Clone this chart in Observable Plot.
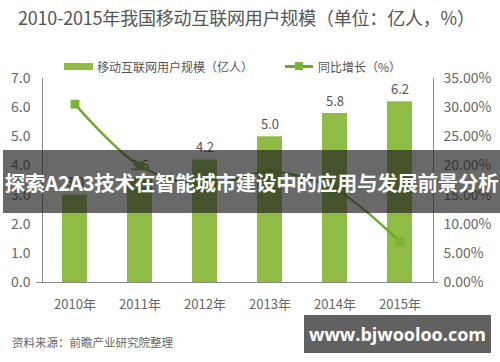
<!DOCTYPE html>
<html>
<head>
<meta charset="utf-8">
<script src="https://cdn.jsdelivr.net/npm/d3@7"></script>
<script src="https://cdn.jsdelivr.net/npm/@observablehq/plot@0.6"></script>
<style>
  html, body { margin: 0; padding: 0; background: #fff; }
  #wrap { position: relative; width: 500px; height: 362px; overflow: hidden; font-family: "Noto Sans CJK SC", "Noto Sans", sans-serif; }
  #chart { position: absolute; left: 0; top: 0; }
  .abs { position: absolute; white-space: nowrap; }
  #title { left: 18px; top: 4px; font-size: 18px; color: #555; letter-spacing: -0.2px; }
  #leg1 { left: 64px; top: 58px; font-size: 12px; color: #555; display: flex; align-items: center; }
  #leg1 .sw { width: 29px; height: 7px; background: #8fbc45; margin-right: 4px; }
  #leg2 { left: 285px; top: 58px; font-size: 12px; color: #555; display: flex; align-items: center; }
  #leg2 .ln { position: relative; width: 28px; height: 3px; background: #6ea82f; margin-right: 5px; }
  #leg2 .ln i { position: absolute; left: 10px; top: -3px; width: 8px; height: 8px; background: #7ab530; }
  #banner { left: 3px; top: 150px; width: 497px; height: 63px; background: rgba(34,34,34,0.68); color: #fff; font-weight: bold; font-size: 20.5px; display: flex; align-items: center; justify-content: center; letter-spacing: -0.3px; }
  #source { left: 12px; top: 334px; font-size: 11.5px; color: #666; }
  #wm { left: 304px; top: 315px; width: 187px; height: 38px; background: #616161; color: #fff; font-weight: bold; font-size: 18px; display: flex; align-items: center; justify-content: center; font-family: "Open Sans", "Noto Sans", sans-serif; }
</style>
</head>
<body>
<div id="wrap">
  <div id="chart"></div>
  <div id="title" class="abs">2010-2015年我国移动互联网用户规模（单位：亿人，%）</div>
  <div id="leg1" class="abs"><span class="sw"></span>移动互联网用户规模（亿人）</div>
  <div id="leg2" class="abs"><span class="ln"><i></i></span>同比增长（%）</div>
  <div id="banner" class="abs">探索A2A3技术在智能城市建设中的应用与发展前景分析</div>
  <div id="source" class="abs">资料来源：前瞻产业研究院整理</div>
  <div id="wm" class="abs">www.bjwooloo.com</div>
</div>
<script>
const years = ["2010年", "2011年", "2012年", "2013年", "2014年", "2015年"];
const users = [3.0, 3.6, 4.2, 5.0, 5.8, 6.2];          // 亿人
const growth = [30.6, 20.0, 16.7, 19.0, 16.0, 7.0];    // %
const leftTicks = [0, 1, 2, 3, 4, 5, 6, 7];
const pctPerUnit = 5; // right axis: 35% <-> 7.0

const data = years.map((y, i) => ({ year: y, users: users[i], growth: growth[i] }));

const plot = Plot.plot({
  width: 500,
  height: 362,
  marginLeft: 42,
  marginRight: 67,
  marginTop: 78,
  marginBottom: 80,
  style: { fontFamily: "'Noto Sans CJK SC', 'Noto Sans', sans-serif", fontSize: "14px", color: "#666", background: "transparent" },
  x: { domain: years, paddingInner: 0.615, paddingOuter: 0.315, label: null },
  y: { domain: [0, 7], label: null },
  marks: [
    Plot.barY(data, { x: "year", y: "users", fill: "#8fbc45" }),
    Plot.text(data, { x: "year", y: "users", text: d => d.users.toFixed(1), dy: -12, fill: "#555", fontSize: 13 }),
    Plot.ruleY([0], { stroke: "#888", insetLeft: -6, insetRight: -5 }),
    Plot.frame({ anchor: "left", stroke: "#888" }),
    Plot.frame({ anchor: "right", stroke: "#888" }),
    Plot.line(data, { x: "year", y: d => d.growth / pctPerUnit, stroke: "#6ea82f", strokeWidth: 2.5, curve: "catmull-rom" }),
    Plot.dot(data, { x: "year", y: d => d.growth / pctPerUnit, symbol: "square", r: 5, fill: "#7ab530" }),
    Plot.axisY(leftTicks, { anchor: "left", tickSize: 0, tickPadding: 12, tickFormat: d => d.toFixed(1), fontSize: 14, fill: "#666" }),
    Plot.axisY(leftTicks, { anchor: "right", tickSize: 0, tickPadding: 10, tickFormat: d => (d * pctPerUnit).toFixed(2) + "%", fontSize: 14, fill: "#666" }),
    Plot.axisX({ tickSize: 0, tickPadding: 17, fontSize: 13, fill: "#666" })
  ]
});
document.getElementById("chart").appendChild(plot);
</script>
</body>
</html>
